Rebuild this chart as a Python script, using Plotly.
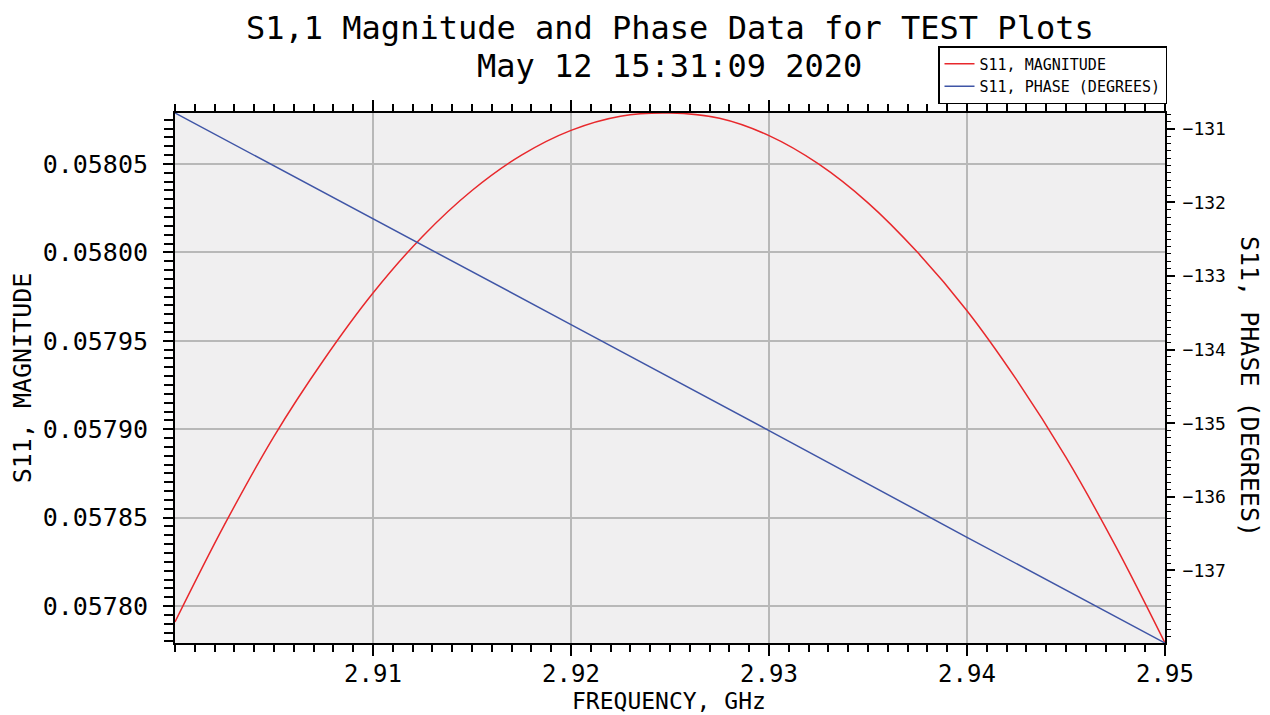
import plotly.graph_objects as go

# ---- data ----
freq_mag = [2.9000, 2.9025, 2.9050, 2.9075, 2.9100, 2.9125, 2.9150, 2.9175,
            2.9200, 2.9225, 2.9250, 2.9275, 2.9300, 2.9325, 2.9350, 2.9375,
            2.9400, 2.9425, 2.9450, 2.9475, 2.9500]
magnitude = [0.057791, 0.057846, 0.057896, 0.057939, 0.057977, 0.058009,
             0.058035, 0.058055, 0.058069, 0.058077, 0.0580788, 0.0580758,
             0.058066, 0.058050, 0.058028, 0.058000, 0.057967, 0.057928,
             0.057884, 0.057834, 0.0577791]

freq_phase = [2.90, 2.91, 2.92, 2.93, 2.94, 2.95]
phase = [-130.786, -132.22, -133.66, -135.10, -136.55, -137.986]

x_ticks = [2.91, 2.92, 2.93, 2.94, 2.95]
mag_ticks = [0.05780, 0.05785, 0.05790, 0.05795, 0.05800, 0.05805]
phase_ticks = [-137, -136, -135, -134, -133, -132, -131]

title_line1 = "S1,1 Magnitude and Phase Data for TEST Plots"
title_line2 = "May 12 15:31:09 2020"
x_title = "FREQUENCY, GHz"
y_title = "S11, MAGNITUDE"
y2_title = "S11, PHASE (DEGREES)"

FONT = "DejaVu Sans Mono"
RED = "#e8282c"
BLUE = "#3f55a6"

W, H = 1262, 707   # page body adds an 8px margin
OFF = 8
PLOT_L, PLOT_R, PLOT_T, PLOT_B = 175, 1165, 113, 643   # target page pixels

fig = go.Figure()
fig.add_trace(go.Scatter(x=freq_mag, y=magnitude, mode="lines",
                         name="S11, MAGNITUDE",
                         line=dict(color=RED, width=1.5, shape="spline", smoothing=1),
                         yaxis="y"))
fig.add_trace(go.Scatter(x=freq_phase, y=phase, mode="lines",
                         name="S11, PHASE (DEGREES)",
                         line=dict(color=BLUE, width=1.5),
                         yaxis="y2"))

pw = PLOT_R - PLOT_L
ph = PLOT_B - PLOT_T


def px_x(page_x):
    return (page_x - PLOT_L) / pw


def px_y(page_y):
    return 1 - (page_y - PLOT_T) / ph


fig.update_layout(
    width=W, height=H,
    margin=dict(l=PLOT_L - OFF, r=W - (PLOT_R - OFF), t=PLOT_T - OFF,
                b=H - (PLOT_B - OFF), autoexpand=False),
    paper_bgcolor="white",
    plot_bgcolor="#f0eff0",
    font=dict(family=FONT, color="black"),
    showlegend=True,
    legend=dict(x=px_x(1167), xanchor="right", y=px_y(104), yanchor="bottom",
                bgcolor="white", bordercolor="black", borderwidth=1.5,
                font=dict(family=FONT, size=15, color="black"),
                tracegroupgap=0, itemwidth=30),
    xaxis=dict(range=[2.90, 2.95], tickmode="array", tickvals=x_ticks,
               tickformat=".2f", showline=True, linecolor="black", linewidth=2,
               mirror="ticks", ticks="outside", ticklen=11, tickwidth=1.5,
               tickcolor="black", automargin=False, ticklabelstandoff=-3,
               tickfont=dict(size=24),
               showgrid=True, gridcolor="#b8b8b8", gridwidth=1.5, zeroline=False,
               minor=dict(tickmode="linear", tick0=2.90, dtick=0.001, ticks="outside",
                          ticklen=7, tickwidth=1.5, tickcolor="black", showgrid=False)),
    yaxis=dict(range=[0.0577791, 0.0580788], tickmode="array", tickvals=mag_ticks,
               tickformat=".5f", showline=True, linecolor="black", linewidth=2,
               ticks="outside", ticklen=10, tickwidth=1.5, tickcolor="black",
               ticklabelstandoff=10, automargin=False,
               tickfont=dict(size=25),
               showgrid=True, gridcolor="#b8b8b8", gridwidth=1.5, zeroline=False,
               minor=dict(tickmode="linear", tick0=0.05780, dtick=0.000005,
                          ticks="outside", ticklen=9, tickwidth=1.5,
                          tickcolor="black", showgrid=False),
               title=dict(text=y_title, font=dict(size=25), standoff=6)),
    yaxis2=dict(range=[-137.986, -130.786], overlaying="y", side="right",
                tickmode="array", tickvals=phase_ticks,
                showline=True, linecolor="black", linewidth=2,
                ticks="outside", ticklen=8, tickwidth=1.5, tickcolor="black",
                ticklabelstandoff=4, automargin=False,
                tickfont=dict(size=18),
                showgrid=False, zeroline=False,
                minor=dict(tickmode="linear", tick0=-137, dtick=0.1,
                           ticks="outside", ticklen=4, tickwidth=1.2,
                           tickcolor="black", showgrid=False)),
    annotations=[
        dict(text=title_line1, xref="paper", yref="paper",
             x=px_x(670), y=px_y(28), xanchor="center", yanchor="middle",
             showarrow=False, font=dict(size=32, family=FONT)),
        dict(text=title_line2, xref="paper", yref="paper",
             x=px_x(669), y=px_y(65.5), xanchor="center", yanchor="middle",
             showarrow=False, font=dict(size=32, family=FONT)),
        dict(text=x_title, xref="paper", yref="paper",
             x=px_x(669), y=px_y(701), xanchor="center", yanchor="middle",
             showarrow=False, font=dict(size=23, family=FONT)),
        dict(text=y2_title, xref="paper", yref="paper",
             x=px_x(1250), y=px_y(386), xanchor="center", yanchor="middle",
             textangle=90, showarrow=False, font=dict(size=25, family=FONT)),
    ],
)

fig.write_html("out.html")
